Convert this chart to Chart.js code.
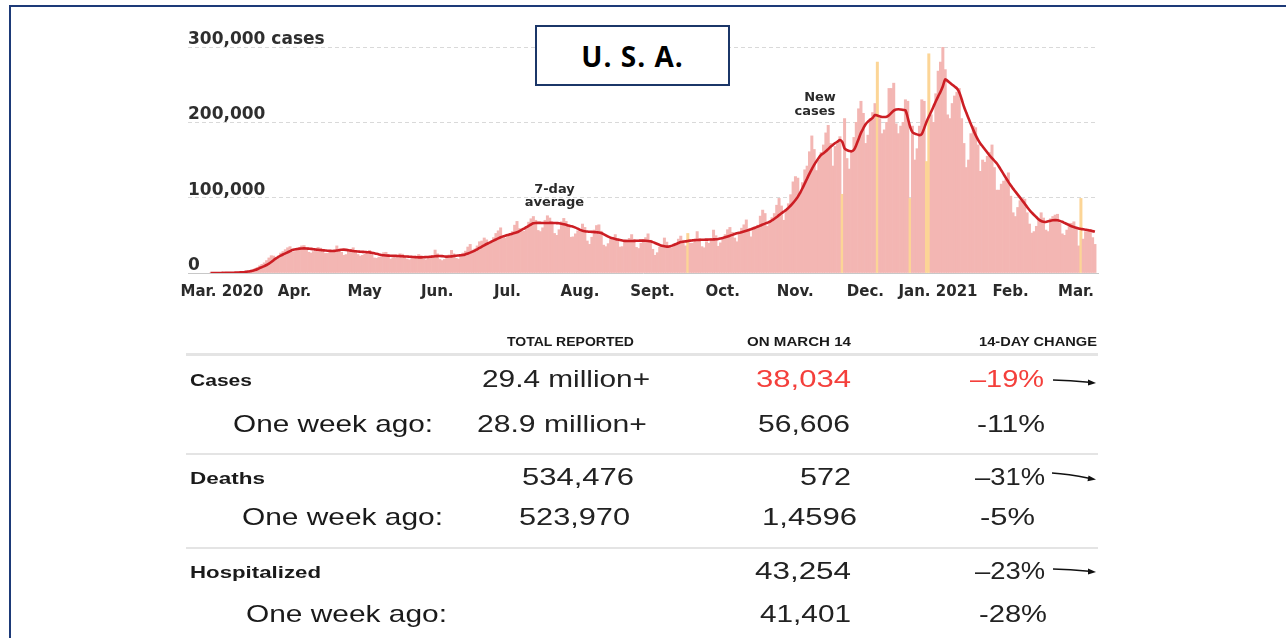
<!DOCTYPE html>
<html>
<head>
<meta charset="utf-8">
<title>U. S. A. – new cases</title>
<script src="https://cdn.jsdelivr.net/npm/chart.js@4.4.0/dist/chart.umd.min.js"></script>
<style>
  html, body { margin: 0; padding: 0; background: #fff; }
  body { width: 1286px; height: 638px; position: relative; overflow: hidden; font-family: "Liberation Sans", Arial, sans-serif; }
  .frame { position: absolute; left: 9px; top: 5px; width: 1300px; height: 700px; border-left: 2px solid #1d3a78; border-top: 2px solid #1d3a78; }
  #chartBox { position: absolute; left: 0; top: 0; width: 1286px; height: 311px; }
  .title { position: absolute; left: 535px; top: 25px; width: 191px; height: 57px; border: 2px solid #1b3668; background: #fff;
           font-family: "Open Sans", sans-serif; font-weight: 700; font-size: 28px; letter-spacing: 1px; color: #000;
           display: flex; align-items: center; justify-content: center; }
  .cell { position: absolute; white-space: nowrap; color: #222; }
  .rule { position: absolute; left: 186px; width: 912px; background: #e4e4e4; }
  svg.arrows { position: absolute; left: 0; top: 0; }
</style>
</head>
<body>
<div class="frame"></div>
<div id="chartBox"><canvas id="casesChart"></canvas></div>
<div class="title">U. S. A.</div>
<div class="rule" style="top:353px;height:3px"></div>
<div class="rule" style="top:453px;height:2px"></div>
<div class="rule" style="top:547px;height:2px"></div>
<svg class="arrows" width="1286" height="638">
  <g stroke="#111" stroke-width="1.4" fill="none">
    <path d="M1053,380 Q1070,380.5 1089,382.3"/>
    <path d="M1052,473 Q1068,474 1089,478.2"/>
    <path d="M1053,569 Q1070,569.5 1089,571.3"/>
  </g>
  <g fill="#111">
    <polygon points="1096,383 1088,379.6 1088,385.4"/>
    <polygon points="1096,479.5 1088.5,475.4 1087.5,481.2"/>
    <polygon points="1096,572 1088,568.6 1088,574.4"/>
  </g>
</svg>
<script>
// days counted from Sun Mar 1 2020 (day 0) to Sun Mar 14 2021 (day 378)
const monthStartDays = [0, 31, 61, 92, 122, 153, 184, 214, 245, 275, 306, 337, 365];
const monthLabels = ['Mar. 2020', 'Apr.', 'May', 'Jun.', 'Jul.', 'Aug.', 'Sept.', 'Oct.', 'Nov.', 'Dec.', 'Jan. 2021', 'Feb.', 'Mar.'];

// y values are in thousands of cases
const yTickValues = [0, 100, 200, 300];
const yTickLabels = ['0', '100,000', '200,000', '300,000 cases'];

// days with reporting anomalies (drawn yellow)
const flaggedDays = [204, 270, 285, 299, 306, 307, 372];

// daily new cases (thousands), one row per week Sun..Sat
const dailyK = [
  0.0, 0.0, 0.0, 0.0, 0.0, 0.1, 0.1,
  0.2, 0.3, 0.4, 0.6, 0.8, 1.2, 1.8,
  1.3, 1.8, 2.4, 3.2, 4.3, 5.7, 7.4,
  9.5, 11.5, 13.5, 16.5, 20.0, 23.0, 22.5,
  20.0, 22.5, 26.5, 28.5, 31.0, 33.5, 35.0,
  27.5, 28.5, 32.0, 33.0, 36.0, 36.5, 33.5,
  27.5, 26.5, 28.5, 30.0, 34.0, 33.0, 31.5,
  26.0, 26.0, 27.5, 28.5, 30.0, 36.0, 32.0,
  27.5, 23.5, 24.5, 30.0, 31.5, 33.5, 29.5,
  24.5, 22.5, 23.5, 25.0, 28.5, 30.0, 25.5,
  20.0, 19.5, 21.0, 21.5, 27.0, 27.5, 24.5,
  18.5, 20.5, 20.0, 21.5, 25.5, 25.0, 22.5,
  18.5, 17.5, 19.0, 20.0, 22.5, 24.5, 23.0,
  18.5, 17.5, 19.5, 22.0, 23.0, 30.5, 25.5,
  18.0, 16.5, 18.0, 21.0, 24.0, 30.0, 25.5,
  19.5, 18.5, 23.0, 26.5, 29.0, 34.5, 38.0,
  30.5, 32.0, 36.0, 41.5, 42.5, 46.5, 44.0,
  39.0, 41.0, 47.0, 52.5, 56.0, 60.0, 47.5,
  46.0, 48.5, 52.0, 55.0, 63.5, 68.5, 59.0,
  55.0, 55.5, 61.5, 67.5, 72.0, 75.0, 70.0,
  56.5, 55.0, 60.0, 70.0, 76.0, 73.0, 66.5,
  52.5, 50.0, 57.5, 68.0, 72.5, 68.5, 62.0,
  47.5, 48.0, 52.0, 56.0, 58.0, 65.0, 60.5,
  42.5, 38.0, 47.5, 57.0, 63.0, 64.0, 55.5,
  37.0, 35.0, 39.0, 44.5, 46.5, 51.0, 45.5,
  34.5, 35.0, 41.0, 44.0, 46.0, 51.0, 44.5,
  34.0, 32.5, 39.5, 44.0, 47.0, 52.0, 43.5,
  31.5, 23.5, 27.0, 34.5, 37.0, 46.5, 41.0,
  34.0, 33.5, 38.5, 39.5, 45.0, 49.0, 43.5,
  36.0, 52.5, 39.5, 39.5, 44.5, 55.0, 45.5,
  35.0, 33.5, 41.5, 39.5, 46.0, 57.0, 49.5,
  35.5, 40.0, 44.5, 51.0, 57.5, 60.5, 54.0,
  46.5, 41.5, 52.0, 59.5, 64.0, 70.5, 56.5,
  48.0, 58.5, 61.0, 63.5, 75.5, 83.5, 79.0,
  62.0, 66.5, 73.5, 79.0, 90.0, 99.0, 89.0,
  70.0, 84.0, 92.0, 104.0, 121.0, 128.0, 126.0,
  105.0, 120.0, 137.0, 142.0, 161.0, 182.0, 164.0,
  136.0, 150.0, 160.0, 170.0, 186.0, 196.0, 172.0,
  142.0, 168.0, 172.0, 181.0, 104.5, 205.0, 152.0,
  138.0, 161.0, 180.0, 200.0, 218.0, 228.0, 212.0,
  172.0, 183.0, 205.0, 213.0, 225.0, 280.0, 205.0,
  185.0, 190.0, 200.0, 245.0, 245.0, 252.0, 198.0,
  185.0, 195.0, 200.0, 230.0, 228.0, 99.0, 195.0,
  150.0, 165.0, 195.0, 230.0, 228.0, 148.0, 291.0,
  210.0, 200.0, 238.0, 268.0, 280.0, 300.0, 270.0,
  210.0, 205.0, 225.0, 235.0, 240.0, 245.0, 205.0,
  172.0, 140.0, 150.0, 185.0, 195.0, 193.0, 170.0,
  135.0, 150.0, 147.0, 155.0, 160.0, 170.0, 140.0,
  110.0, 110.0, 118.0, 122.0, 125.0, 133.0, 102.0,
  80.0, 75.0, 87.0, 96.0, 99.0, 98.0, 80.0,
  65.0, 53.0, 55.0, 62.0, 72.0, 80.0, 73.0,
  57.0, 55.0, 72.0, 75.0, 77.0, 78.0, 67.0,
  52.0, 50.0, 57.0, 66.0, 66.0, 68.0, 58.0,
  36.0, 99.0, 45.0, 55.0, 57.0, 58.0, 47.0,
  38.0
];

// 7-day average (thousands)
const avgK = [
  0.0, 0.0, 0.0, 0.0, 0.0, 0.1, 0.1,
  0.2, 0.2, 0.3, 0.4, 0.5, 0.6, 0.8,
  1.1, 1.5, 1.9, 2.4, 3.0, 3.9, 5.0,
  6.5, 7.8, 9.2, 10.6, 12.4, 14.5, 17.0,
  19.5, 21.3, 23.0, 24.6, 26.0, 27.5, 29.0,
  30.5, 31.3, 31.9, 32.4, 32.6, 32.7, 32.6,
  32.3, 32.0, 31.6, 31.2, 30.8, 30.5, 30.2,
  29.9, 29.6, 29.4, 29.2, 29.4, 29.8, 30.3,
  30.8, 31.0, 30.7, 30.2, 29.7, 29.2, 28.8,
  28.5, 28.3, 28.1, 27.9, 27.6, 27.4, 26.9,
  26.2, 25.5, 24.7, 24.0, 23.5, 23.2, 23.0,
  22.9, 22.8, 22.7, 22.6, 22.4, 22.2, 22.0,
  21.8, 21.6, 21.4, 21.2, 21.0, 20.8, 20.8,
  20.9, 21.1, 21.3, 21.6, 21.9, 22.2, 22.4,
  22.6, 22.4, 22.0, 21.7, 21.8, 22.1, 22.5,
  23.0, 23.3, 23.6, 23.9, 24.8, 25.9, 27.0,
  28.3, 29.8, 31.5, 33.2, 35.0, 36.8, 38.5,
  40.0, 41.5, 43.0, 44.5, 46.0, 47.4, 48.6,
  49.6, 50.5, 51.3, 52.2, 53.1, 54.0, 55.5,
  57.2, 59.0, 60.8, 62.6, 64.4, 66.0, 66.4,
  66.5, 66.5, 66.4, 66.4, 66.4, 66.5, 66.6,
  66.4, 66.2, 66.0, 65.5, 64.8, 64.0, 63.0,
  62.2, 61.5, 60.3, 58.8, 57.2, 56.0, 55.4,
  55.0, 54.8, 54.6, 54.3, 54.0, 53.8, 53.0,
  51.7, 50.0, 48.2, 46.9, 46.0, 45.2, 44.4,
  43.7, 43.1, 42.7, 42.5, 42.4, 42.4, 42.6,
  42.8, 42.9, 43.0, 43.0, 42.8, 42.5, 42.0,
  41.0, 39.8, 38.5, 37.3, 36.3, 35.5, 35.0,
  35.2, 36.0, 37.2, 38.5, 39.8, 41.0, 41.6,
  42.0, 42.5, 43.0, 43.3, 43.6, 43.8, 44.0,
  44.1, 44.2, 44.3, 44.4, 44.5, 44.6, 44.7,
  45.1, 45.8, 46.6, 47.5, 48.5, 49.5, 50.6,
  51.7, 52.7, 53.5, 54.2, 55.0, 56.0, 57.0,
  58.2, 59.3, 60.5, 61.7, 63.0, 64.3, 65.5,
  66.8, 68.0, 70.0, 72.0, 74.3, 76.8, 79.2,
  81.5, 83.6, 86.5, 89.6, 93.0, 96.8, 101.0,
  106.5, 112.5, 119.0, 125.5, 132.0, 138.0, 143.5,
  148.5, 153.0, 157.0, 159.0, 161.5, 164.5, 167.5,
  170.0, 172.5, 174.5, 176.5, 174.0, 165.5, 163.0,
  162.0, 161.5, 163.5, 170.0, 178.0, 186.0, 192.0,
  197.5, 201.0, 203.5, 206.0, 209.7, 209.0, 208.0,
  207.2, 207.0, 207.5, 209.5, 212.5, 215.5, 217.0,
  217.3, 217.0, 216.5, 216.0, 206.0, 194.0, 187.0,
  185.0, 184.0, 183.0, 184.5, 192.0, 200.5, 207.5,
  214.0, 221.0, 228.0, 234.5, 240.7, 248.0, 257.0,
  255.0, 252.5, 250.0, 247.5, 245.0, 240.0, 231.0,
  221.0, 213.0, 205.0, 197.5, 190.0, 183.0, 177.0,
  172.0, 168.0, 164.0, 160.0, 156.0, 152.5, 149.0,
  145.6, 141.0, 136.0, 131.0, 126.0, 121.0, 116.5,
  112.0, 108.0, 104.0, 100.0, 96.0, 92.0, 87.5,
  83.6, 80.0, 77.0, 74.0, 71.0, 69.0, 68.0,
  67.8, 68.6, 69.5, 70.0, 70.2, 70.0, 69.2,
  68.0, 66.5, 65.0, 63.5, 62.0, 61.0, 60.0,
  59.0, 58.5, 58.0, 57.5, 57.0, 56.3, 55.6,
  55.0
];

// table below the chart
const tableHeaders = ['TOTAL REPORTED', 'ON MARCH 14', '14-DAY CHANGE'];
const rowLabels = ['Cases', 'One week ago:', 'Deaths', 'One week ago:', 'Hospitalized', 'One week ago:'];
const totalReported = ['29.4 million+', '28.9 million+', '534,476', '523,970', '', ''];
const onMarch14 = ['38,034', '56,606', '572', '1,4596', '43,254', '41,401'];
const change14 = ['\u201319%', '-11%', '\u201331%', '-5%', '\u201323%', '-28%'];

// small text notes inside the plot (day, value in thousands)
const notes = [
  { text: '7-day', day: 147, value: 111 },
  { text: 'average', day: 147, value: 94 },
  { text: 'New', day: 260.5, value: 233 },
  { text: 'cases', day: 258.3, value: 214 }
];

const notesPlugin = {
  id: 'notes',
  afterDatasetsDraw(chart) {
    const c = chart.ctx;
    const xs = chart.scales.x, ys = chart.scales.y;
    c.save();
    c.font = 'bold 13px "DejaVu Sans"';
    c.fillStyle = '#2a2a2a';
    c.textAlign = 'center';
    c.textBaseline = 'middle';
    notes.forEach(n => c.fillText(n.text, xs.getPixelForValue(n.day), ys.getPixelForValue(n.value)));
    c.restore();
  }
};

const ctx = document.getElementById('casesChart').getContext('2d');
new Chart(ctx, {
  type: 'bar',
  data: {
    datasets: [
      {
        type: 'line',
        label: '7-day average',
        data: avgK.map((v, i) => ({ x: i, y: v })),
        borderColor: '#cc1e24',
        borderWidth: 2.6,
        pointRadius: 0,
        tension: 0.3,
        order: 0
      },
      {
        type: 'bar',
        label: 'New cases',
        data: dailyK.map((v, i) => ({ x: i, y: v })),
        backgroundColor: dailyK.map((v, i) => flaggedDays.includes(i) ? '#fcd596' : '#f3b6b3'),
        borderWidth: 0,
        barPercentage: 1,
        categoryPercentage: 1,
        order: 1
      }
    ]
  },
  options: {
    responsive: true,
    maintainAspectRatio: false,
    animation: false,
    layout: { padding: { left: 188, right: 188, top: 47, bottom: 0 } },
    plugins: { legend: { display: false }, tooltip: { enabled: false } },
    scales: {
      x: {
        type: 'linear',
        offset: false,
        min: -9.6,
        max: 379.3,
        afterBuildTicks: axis => { axis.ticks = monthStartDays.map(v => ({ value: v })); },
        ticks: {
          autoSkip: false, maxRotation: 0, labelOffset: 11.5, padding: 10,
          color: '#2a2a2a',
          font: { family: 'DejaVu Sans', size: 15, weight: 'bold' },
          callback: (v, i) => monthLabels[i]
        },
        grid: { display: false, drawTicks: false },
        border: { display: true, color: '#c8c8c8', width: 1 }
      },
      y: {
        min: 0,
        max: 300,
        afterBuildTicks: axis => { axis.ticks = yTickValues.map(v => ({ value: v })); },
        ticks: {
          mirror: true, padding: 0, labelOffset: -7.5,
          color: '#2e2e2e',
          font: { family: 'DejaVu Sans', size: 17, weight: 'bold' },
          callback: (v, i) => yTickLabels[i]
        },
        grid: {
          drawTicks: false,
          color: c => (c.tick && c.tick.value === 0) ? 'rgba(0,0,0,0)' : '#d9d9d9',
          borderDash: [4, 3]
        },
        border: { display: false, dash: [4, 3] }
      }
    }
  },
  plugins: [notesPlugin]
});

// text of the table, each piece stretched to the width it has in the picture
function place(text, x1, x2, y, size, bold, color) {
  if (!text) return;
  const s = document.createElement('span');
  s.className = 'cell';
  s.textContent = text;
  s.style.fontSize = size + 'px';
  s.style.lineHeight = size + 'px';
  s.style.fontWeight = bold ? '700' : '400';
  if (color) s.style.color = color;
  s.style.left = x1 + 'px';
  s.style.top = (y - 0.49 * size) + 'px';
  document.body.appendChild(s);
  const w = s.getBoundingClientRect().width;
  s.style.transformOrigin = '0 0';
  s.style.transform = 'scaleX(' + ((x2 - x1) / w).toFixed(3) + ')';
}

const red = '#f43f3b';
const headerX = [[507, 634], [747, 851], [979, 1097]];
tableHeaders.forEach((t, i) => place(t, headerX[i][0], headerX[i][1], 342, 12, true, '#1a1a1a'));

const rowY = [379, 424, 477, 517, 571, 614];
const labelX = [[190, 252], [233, 433], [190, 265], [242, 443], [190, 321], [246, 447]];
const totalX = [[482, 650], [477, 647], [522, 634], [519, 630], null, null];
const marchX = [[756, 851], [758, 850], [800, 851], [762, 857], [755, 851], [760, 851]];
const changeX = [[970, 1044], [977, 1045], [975, 1045], [980, 1035], [975, 1045], [979, 1047]];

rowLabels.forEach((t, i) => {
  const main = i % 2 === 0;
  place(t, labelX[i][0], labelX[i][1], rowY[i] + (main ? 1 : 0), main ? 17 : 24, main, '#1a1a1a');
  if (totalX[i]) place(totalReported[i], totalX[i][0], totalX[i][1], rowY[i], 24, false);
  place(onMarch14[i], marchX[i][0], marchX[i][1], rowY[i], 24, false, i === 0 ? red : null);
  place(change14[i], changeX[i][0], changeX[i][1], rowY[i], 24, false, i === 0 ? red : null);
});
</script>
</body>
</html>
